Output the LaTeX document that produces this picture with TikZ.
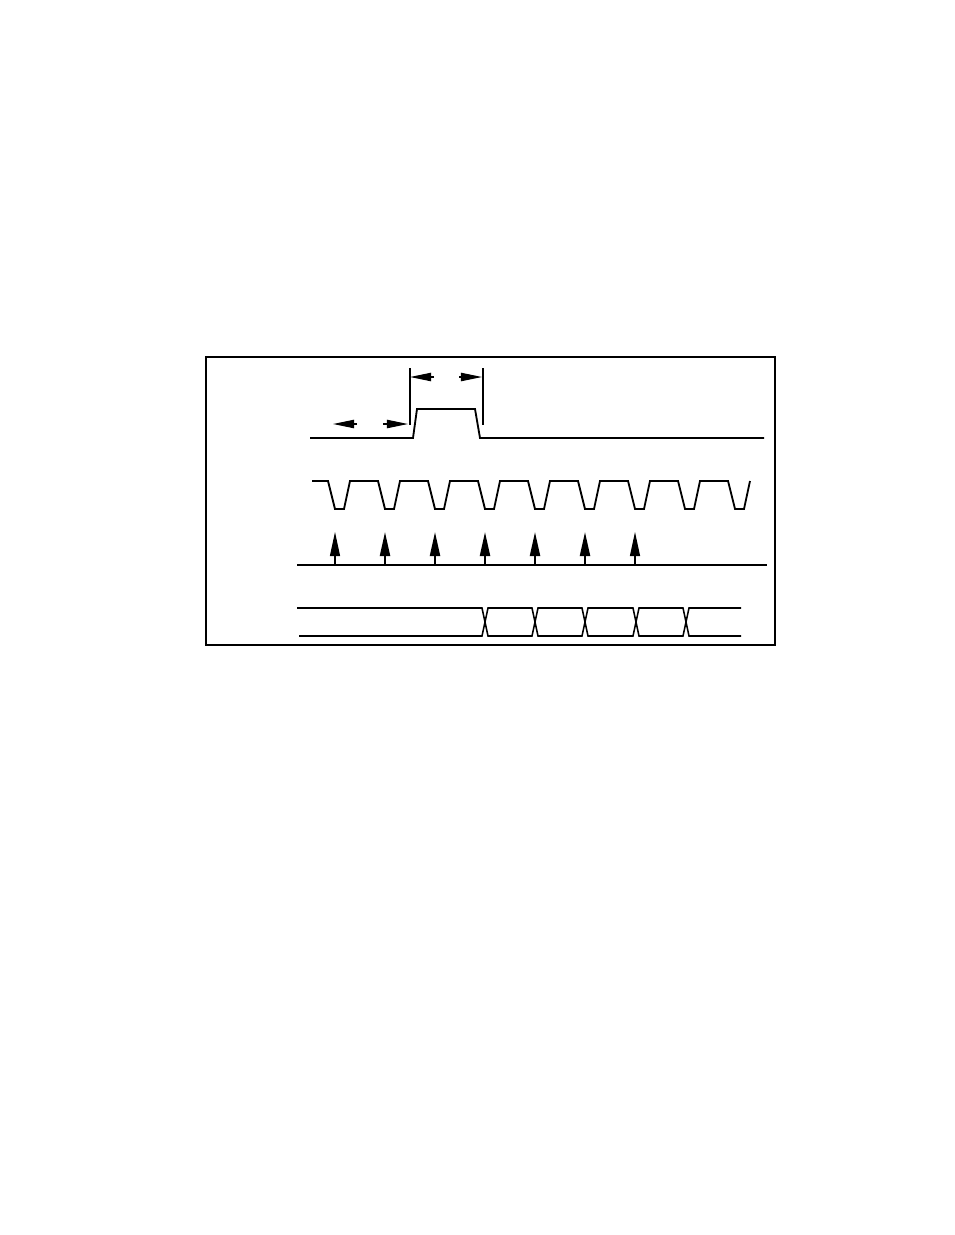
\documentclass[tikz,border=0pt]{standalone}
\usetikzlibrary{arrows.meta}
\begin{document}
\begin{tikzpicture}[x=0.25mm,y=-0.25mm,
    wave/.style={line width=1.3pt},
    frame/.style={line width=1pt},
    dimline/.style={line width=1.4pt},
    dimarrow/.style={line width=0.8pt,-{Triangle[length=5.3mm,width=2.1mm]}},
    uparrow/.style={-{Triangle[length=6mm,width=2.5mm]}}]
    \useasboundingbox (0,0) rectangle (954,1235);
    \draw[frame] (206,357) rectangle (775,645);
    % strobe pulse
    \draw[wave] (310,438) -- (413,438) -- (417,409) -- (475,409) -- (480,438) -- (764,438);
    % pulse width and set-up markers
    \coordinate (wl) at (410,368);
    \coordinate (wr) at (483,368);
    \draw[dimline] (wl) -- ++(0,57);
    \draw[dimline] (wr) -- ++(0,57);
    \draw[dimarrow] (434,377) -- (410,377);
    \draw[dimarrow] (459,377) -- (482,377);
    \draw[dimarrow] (357,424) -- (333,424);
    \draw[dimarrow] (383,424) -- (408,424);
    % clock
    \draw[wave] (312,481) \foreach \k in {0,...,8} {
        -- ({328+50*\k},481) -- ({335+50*\k},509) -- ({344+50*\k},509) -- ({350+50*\k},481)};
    % sampling points
    \draw[wave, line width=1pt] (297,565) -- (767,565);
    \foreach \k/\lw in {0/0.8,1/1.5,2/1.5,3/1.5,4/1.5,5/1.5,6/0.8}
        \draw[uparrow, line width=\lw pt] ({335+50*\k},565) -- ({335+50*\k},532);
    % data
    \draw[wave, line width=1.1pt] (297,608) -- (482,608) -- (488,636) -- (532,636) -- (538,608) -- (582,608)
        -- (588,636) -- (633,636) -- (639,608) -- (683,608) -- (689,636) -- (741,636);
    \draw[wave, line width=1.1pt] (299,636) -- (482,636) -- (488,608) -- (532,608) -- (538,636) -- (582,636)
        -- (588,608) -- (633,608) -- (639,636) -- (683,636) -- (689,608) -- (741,608);
\end{tikzpicture}
\end{document}
